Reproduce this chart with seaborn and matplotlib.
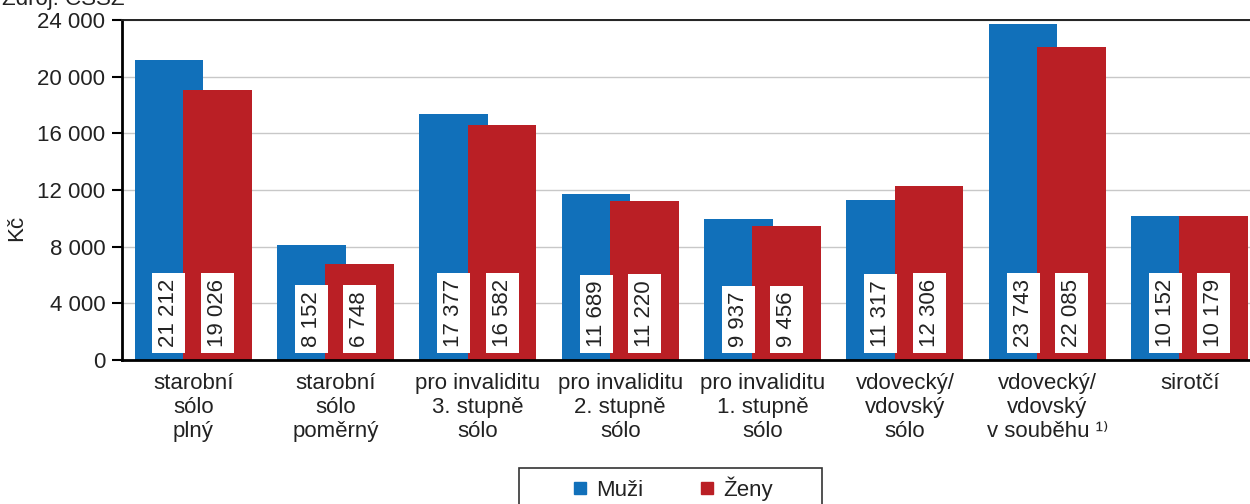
import numpy as np
import pandas as pd
import matplotlib
matplotlib.use("Agg")
import matplotlib.pyplot as plt
from matplotlib.lines import Line2D
from matplotlib.patches import Rectangle
from matplotlib.ticker import FuncFormatter, MultipleLocator
import seaborn as sns

kategorie = ['starobní\nsólo\nplný', 'starobní\nsólo\npoměrný',
             'pro invaliditu\n3. stupně\nsólo', 'pro invaliditu\n2. stupně\nsólo',
             'pro invaliditu\n1. stupně\nsólo', 'vdovecký/\nvdovský\nsólo',
             'vdovecký/\nvdovský\nv souběhu ¹⁾', 'sirotčí']
muzi = [21212, 8152, 17377, 11689, 9937, 11317, 23743, 10152]
zeny = [19026, 6748, 16582, 11220, 9456, 12306, 22085, 10179]
skupiny = ['Muži', 'Ženy']
barvy = ['#1170BA', '#BA1F25']

df = pd.DataFrame({
    'kategorie': kategorie * 2,
    'hodnota': muzi + zeny,
    'pohlavi': [skupiny[0]] * len(muzi) + [skupiny[1]] * len(zeny),
})

def fmt(v):
    return f"{int(round(v)):,}".replace(",", " ")

sns.set_style("white")
plt.rcParams['font.family'] = ['Liberation Sans', 'DejaVu Sans']
plt.rcParams['font.size'] = 16

fig = plt.figure(figsize=(12.5, 5.04), dpi=100)
# osa x pokračuje kousek za pravý okraj obrázku
ax = fig.add_axes([0.0976, 0.2857, 0.911, 0.6746])

sns.barplot(data=df, x='kategorie', y='hodnota', hue='pohlavi',
            palette=barvy, hue_order=skupiny, order=kategorie,
            width=0.68, gap=-0.42, saturation=1, linewidth=0,
            legend=False, ax=ax, zorder=2)

# popisky hodnot v bílých rámečcích
for cont in ax.containers:
    for bar in cont:
        h = bar.get_height()
        xc = bar.get_x() + bar.get_width() / 2
        ax.text(xc, 0.038, fmt(h), rotation=90, ha='center', va='bottom',
                transform=ax.get_xaxis_transform(), fontsize=16, color='#222222',
                bbox=dict(boxstyle='square,pad=0.27', fc='white', ec='none'), zorder=4)

ax.set_ylim(0, 24000)
ax.set_xlim(-0.5, len(kategorie) - 0.5)
ax.yaxis.set_major_locator(MultipleLocator(4000))
ax.yaxis.set_major_formatter(FuncFormatter(lambda v, p: fmt(v)))
ax.grid(axis='y', color='#c8c8c8', linewidth=1, zorder=0)
ax.set_axisbelow(True)

ax.set_xticks(range(len(kategorie)))
ax.set_xticklabels(kategorie, linespacing=1.2, color='#222222')
ax.set_xticks(np.arange(-0.5, len(kategorie), 1), minor=True)
ax.tick_params(axis='x', which='major', length=0, pad=9)
ax.tick_params(axis='x', which='minor', length=8, width=1.5, color='black', direction='out')
ax.tick_params(axis='y', length=7, width=1.5, color='black', direction='out',
               left=True, labelcolor='#222222', pad=5)

ax.set_xlabel('')
ax.set_ylabel('Kč', color='#222222')
ax.yaxis.set_label_coords(-0.083, 0.388)
ax.spines['right'].set_visible(False)
ax.spines['top'].set_color('#222222')
ax.spines['top'].set_linewidth(1.4)
for s in ['left', 'bottom']:
    ax.spines[s].set_color('black')
    ax.spines[s].set_linewidth(2)

# legenda
handles = [Line2D([], [], marker='s', linestyle='none', markersize=8.5,
                  markerfacecolor=c, markeredgecolor=c) for c in barvy]
fig.legend(handles, skupiny, loc='center', bbox_to_anchor=(0.538, 0.030),
           ncol=2, frameon=False, handlelength=0.7, handletextpad=0.35,
           columnspacing=2.55, fontsize=16, labelcolor='#222222',
           borderpad=0, borderaxespad=0)
fig.patches.append(Rectangle((519 / 1250, -0.05), 303 / 1250, 0.05 + 36 / 504,
                             transform=fig.transFigure, fill=False,
                             edgecolor='#333333', linewidth=1.2))

fig.text(0.002, 0.991, 'Zdroj: ČSSZ', fontsize=16, color='#222222', va='baseline')

fig.savefig('out.png', dpi=100)
